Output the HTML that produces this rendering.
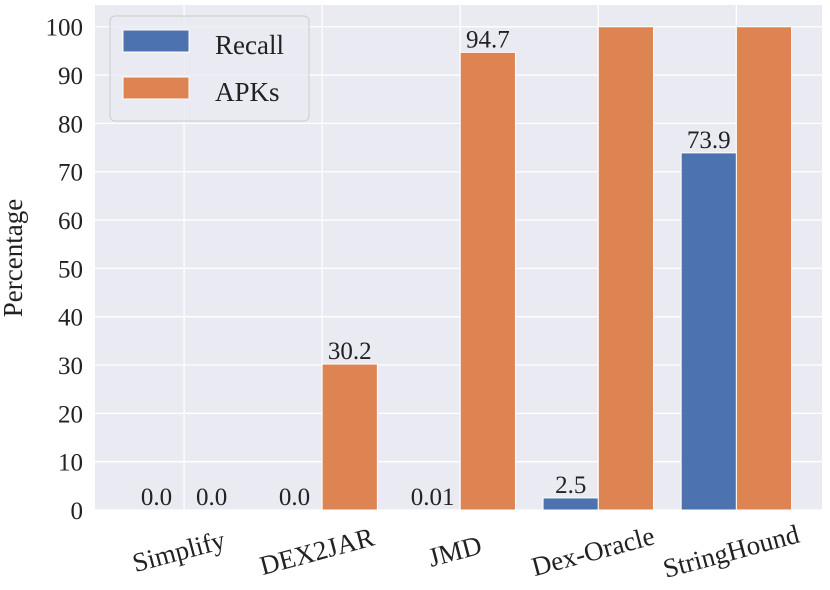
<!DOCTYPE html>
<html><head><meta charset="utf-8"><style>
body{margin:0;background:#fff}
text{font-family:"Liberation Serif","DejaVu Serif",serif;fill:#222}
</style></head><body>
<svg id="chart" width="830" height="585" font-family="Liberation Serif, DejaVu Serif, serif" xmlns="http://www.w3.org/2000/svg">
<rect x="95" y="5" width="727" height="505" fill="#eaeaf2"/>
<g id="grid"></g><g id="bars"></g><g id="labels"></g><g id="axes"></g>
<text x="22" y="258" font-size="27" text-anchor="middle" transform="rotate(-90 22 258)">Percentage</text>
<g>
<rect x="110" y="16" width="199" height="105" rx="5" fill="#eaeaf2" fill-opacity="0.8" stroke="#cccccc"/>
<rect x="123" y="30" width="66" height="22" fill="#4c72b0" stroke="#fff"/>
<text x="215" y="54" font-size="27">Recall</text>
<rect x="123" y="77" width="66" height="22" fill="#dd8452" stroke="#fff"/>
<text x="215" y="101" font-size="27">APKs</text>
</g>
</svg>
<script>
const categories=["Simplify","DEX2JAR","JMD","Dex-Oracle","StringHound"];
const recall=[0.0,0.0,0.01,2.5,73.9];
const apks=[0.0,30.2,94.7,100,100];
const recallLabels=["0.0","0.0","0.01","2.5","73.9"];
const apksLabels=["0.0","30.2","94.7","",""];
const yTicks=[0,10,20,30,40,50,60,70,80,90,100];
const NS="http://www.w3.org/2000/svg";
const L=95,R=822,T=5,B=510;
const xMin=-0.645,xMax=4.62,yMin=0,yMax=104.5;
const xs=v=>L+(v-xMin)/(xMax-xMin)*(R-L);
const ys=v=>B-(v-yMin)/(yMax-yMin)*(B-T);
function mk(tag,attrs,parent){const e=document.createElementNS(NS,tag);for(const k in attrs)e.setAttribute(k,attrs[k]);parent.appendChild(e);return e;}
const grid=document.getElementById('grid'),bars=document.getElementById('bars'),labels=document.getElementById('labels'),axes=document.getElementById('axes');
yTicks.forEach(t=>{
 const l=mk('line',{x1:L,x2:R,y1:ys(t),y2:ys(t),stroke:'#fff','stroke-width':1.3},grid);
 
 
 const tx=mk('text',{x:L-12,y:ys(t)+9,'font-size':25,'text-anchor':'end'},axes);
 tx.textContent=t;
 
 
});
const bw=(xs(0.4)-xs(0));
categories.forEach((c,i)=>{
 const cx=xs(i);
 const g=mk('line',{x1:cx,x2:cx,y1:T,y2:B,stroke:'#fff','stroke-width':1.3},grid);
 
 
 const r1=mk('rect',{x:xs(i-0.4),y:ys(recall[i]),width:bw,height:ys(0)-ys(recall[i]),fill:'#4c72b0',stroke:'#fff','stroke-width':1},bars);
 
 
 const r2=mk('rect',{x:xs(i),y:ys(apks[i]),width:bw,height:ys(0)-ys(apks[i]),fill:'#dd8452',stroke:'#fff','stroke-width':1},bars);
 
 
 if(recallLabels[i]){const t=mk('text',{x:xs(i-0.2),y:ys(recall[i])-5,'font-size':25,'text-anchor':'middle'},labels);t.textContent=recallLabels[i];
  
  }
 if(apksLabels[i]){const t=mk('text',{x:xs(i+0.2),y:ys(apks[i])-5,'font-size':25,'text-anchor':'middle'},labels);t.textContent=apksLabels[i];
  
  }
 const lx=cx-3,ly=560;
 const xt=mk('text',{x:lx,y:ly,'font-size':27,'text-anchor':'middle',transform:`rotate(-15 ${lx} ${ly})`},axes);
 xt.textContent=c;
 
 
});
</script>
</body></html>
